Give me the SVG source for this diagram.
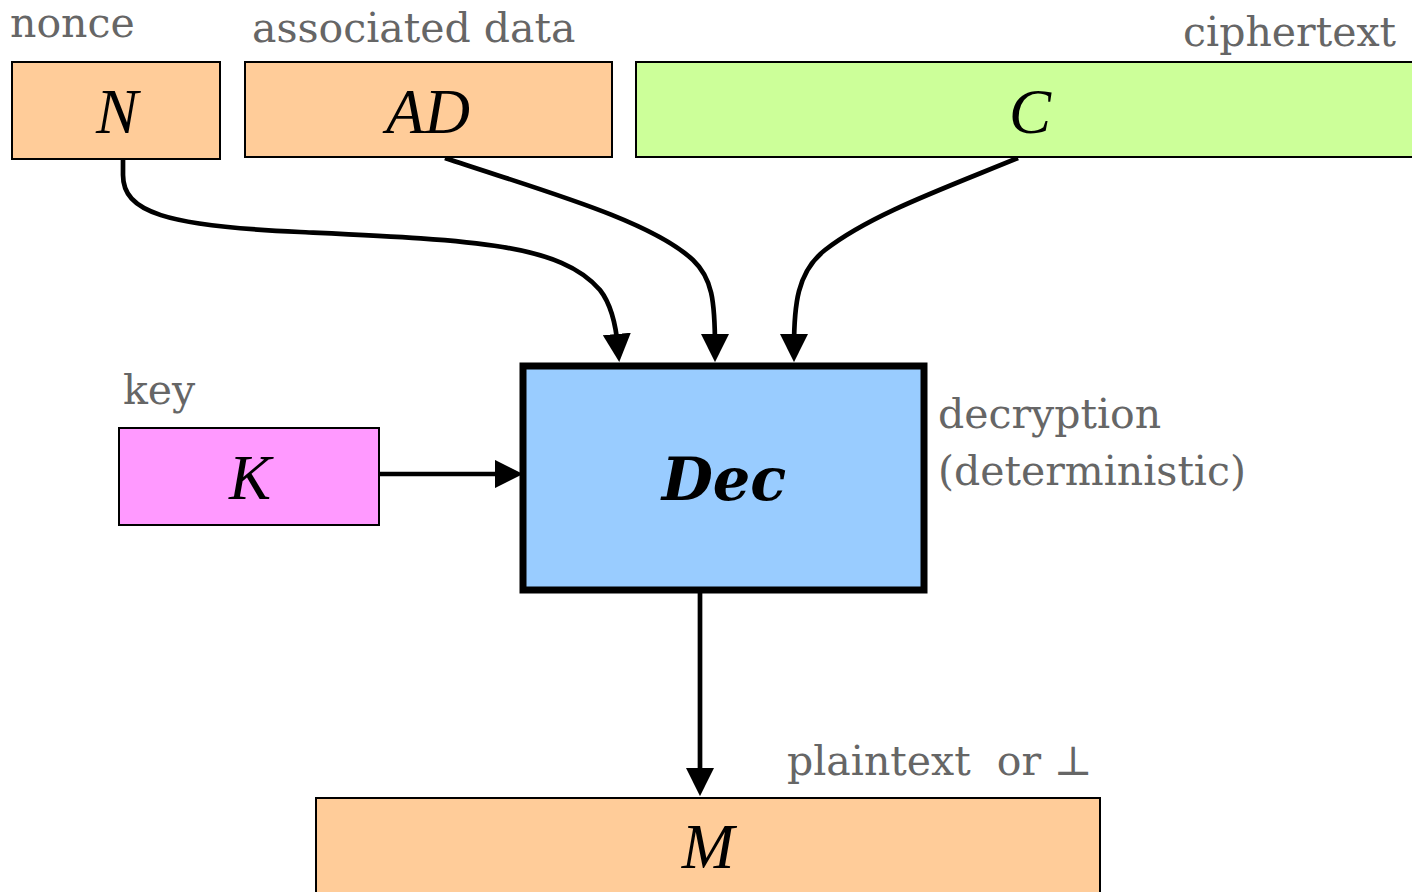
<svg xmlns="http://www.w3.org/2000/svg" width="1412" height="892" viewBox="0 0 1412 892">
<defs>
<style>
.lbl{font-family:"DejaVu Serif","Liberation Serif",serif;font-size:41px;fill:#666666;white-space:pre}
.var{font-family:"Liberation Serif",serif;font-style:italic;font-size:63px;fill:#000;text-anchor:middle}
.box{stroke:#000;stroke-width:2}
.conn{fill:none;stroke:#000;stroke-width:4.7}
</style>
<marker id="ah" viewBox="0 0 10 10" refX="5" refY="5" markerWidth="6" markerHeight="6" markerUnits="strokeWidth" orient="auto">
<path d="M0,0 L10,5 L0,10 z" fill="#000"/>
</marker>
</defs>
<rect width="1412" height="892" fill="#fff"/>
<g id="connectors">
<path class="conn" marker-end="url(#ah)" d="M123,160 L123,175 C123,212 165,226 300,232 C470,240 560,243 600,290 C611,304 616,325 618,348"/>
<path class="conn" marker-end="url(#ah)" d="M445,158 C540,190 650,220 693,260 C712,278 715,300 715,348"/>
<path class="conn" marker-end="url(#ah)" d="M1018,158 C940,190 870,215 825,250 C797,272 794,305 794,348"/>
<path class="conn" marker-end="url(#ah)" d="M380,474 L509,474"/>
<path class="conn" marker-end="url(#ah)" d="M700,590 L700,782"/>
</g>
<g id="node-N">
<rect class="box" x="12" y="62" width="208" height="97" fill="#FFCC99"/>
<text class="var" x="117" y="133">N</text>
<text class="lbl" x="10" y="37">nonce</text>
</g>
<g id="node-AD">
<rect class="box" x="245" y="62" width="367" height="95" fill="#FFCC99"/>
<text class="var" x="428" y="133">AD</text>
<text class="lbl" x="252" y="42">associated data</text>
</g>
<g id="node-C">
<rect class="box" x="636" y="62" width="790" height="95" fill="#CCFF99"/>
<text class="var" x="1030" y="133">C</text>
<text class="lbl" x="1396" y="46" text-anchor="end">ciphertext</text>
</g>
<g id="node-K">
<rect class="box" x="119" y="428" width="260" height="97" fill="#FF99FF"/>
<text class="var" x="250" y="499">K</text>
<text class="lbl" x="123" y="404">key</text>
</g>
<g id="node-Dec">
<rect x="523" y="366" width="401" height="224" fill="#99CCFF" stroke="#000" stroke-width="7"/>
<text x="724" y="500" font-family="DejaVu Serif, Liberation Serif, serif" font-style="italic" font-weight="bold" font-size="59" text-anchor="middle" fill="#000">Dec</text>
<text class="lbl" x="938" y="428">decryption</text>
<text class="lbl" x="938" y="485">(deterministic)</text>
</g>
<g id="node-M">
<rect class="box" x="316" y="798" width="784" height="110" fill="#FFCC99"/>
<text class="var" x="708" y="868">M</text>
<text class="lbl" x="787" y="775">plaintext  or ⊥</text>
</g>
</svg>
